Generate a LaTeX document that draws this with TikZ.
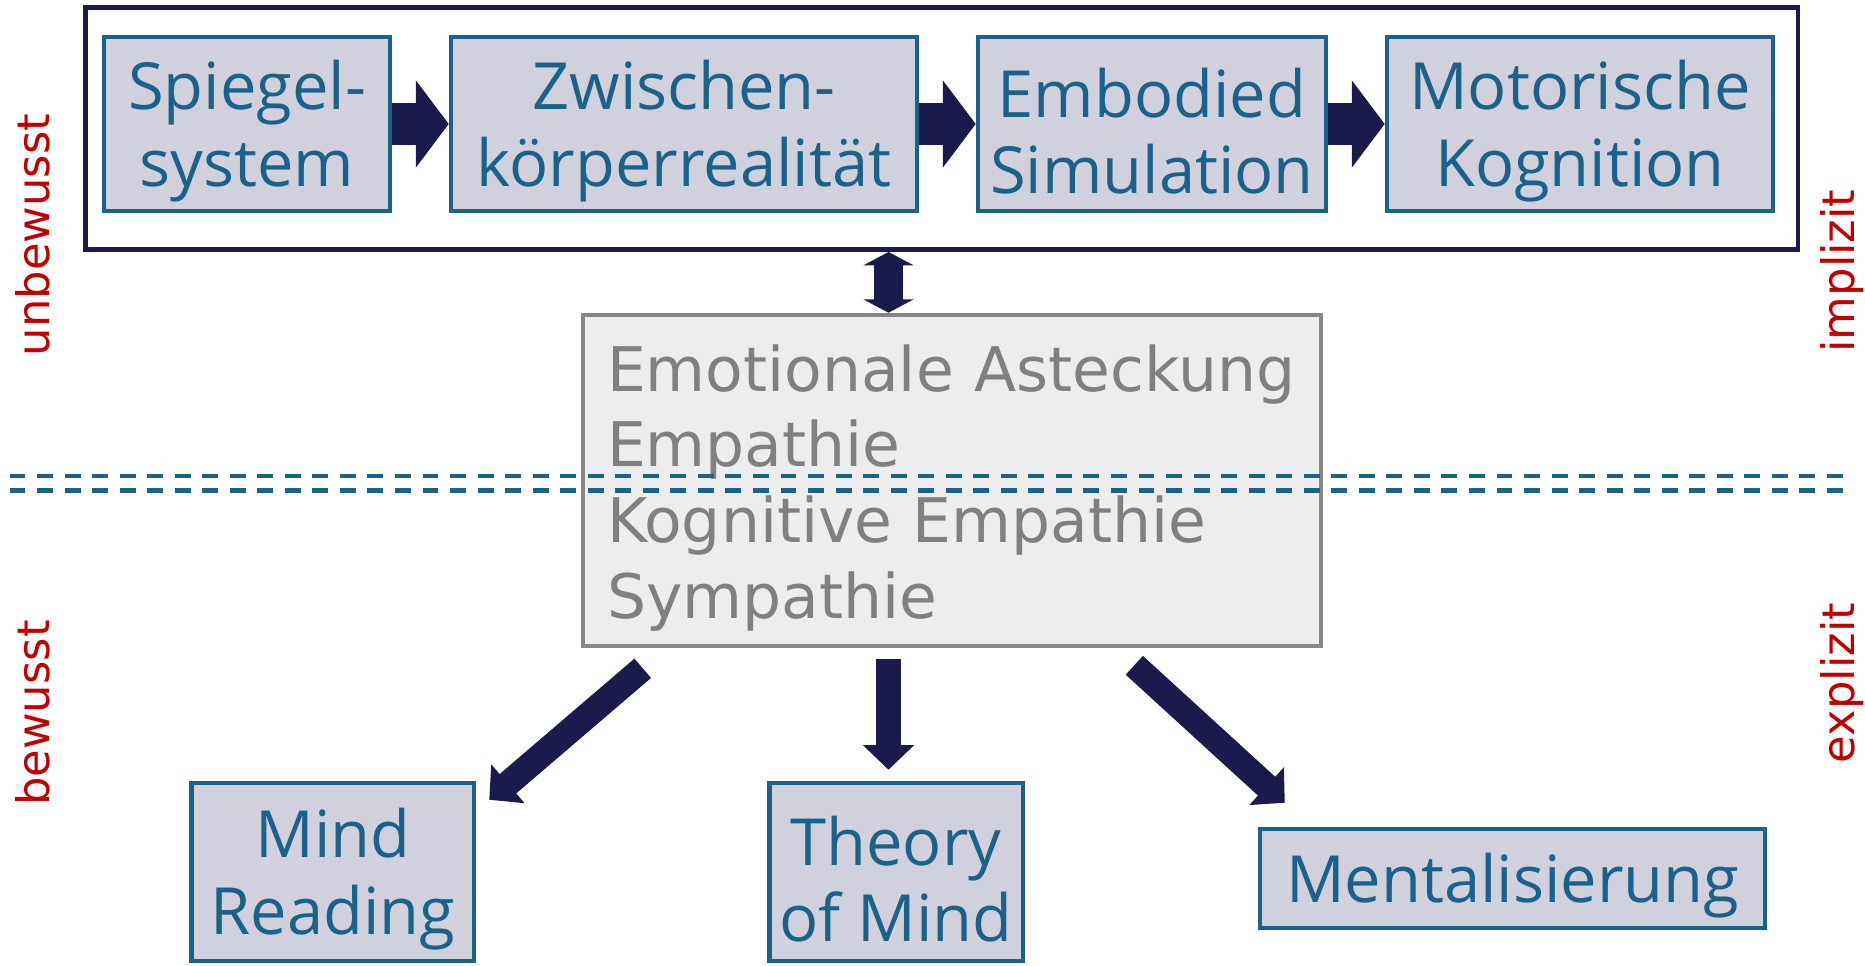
\documentclass[tikz,border=0pt]{standalone}
\usepackage{fontspec}
\setmainfont{Open Sans}
\newfontfamily\grayfont{DejaVu Sans}
\usetikzlibrary{arrows.meta, positioning, calc}
\usepackage{xcolor}

\definecolor{navy}{HTML}{1B1A4C}
\definecolor{boxblue}{HTML}{1B628A}
\definecolor{boxfill}{HTML}{D0D1DC}
\definecolor{greyfill}{HTML}{EDEDED}
\definecolor{greyline}{HTML}{878787}
\definecolor{greytext}{HTML}{808080}
\definecolor{labelred}{HTML}{C00000}

\newcommand{\hoch}{\rule{0pt}{36pt}}

\tikzset{
    blok/.style={draw=boxblue, line width=2.55pt, fill=boxfill, text=boxblue, align=center,
        font=\fontsize{37}{43.5}\selectfont, minimum height=3.48cm, inner sep=2pt},
    chainarrow/.style={navy, line width=23.8pt, -{Triangle[length=18.7pt, width=48.7pt]}},
    bigarrow/.style={navy, line width=14.5pt, -{Triangle[length=14pt, width=28.3pt]}},
    sidelabel/.style={text=labelred, rotate=90, font=\grayfont\fontsize{25.5}{30}\selectfont},
    trenn/.style={boxblue, line width=2.3pt, dash pattern=on 9.07pt off 6.6pt}
}

\begin{document}
\begin{tikzpicture}
        \useasboundingbox (0,0) rectangle (37.3,19.3);

        \node[blok, minimum width=5.72cm] (spiegel) at (4.94,16.82) {\hoch Spiegel-\\system};
        \node[blok, minimum width=9.32cm, right=1.13cm of spiegel] (zwischen) {\hoch Zwischen-\\körperrealität};
        \node[blok, minimum width=6.96cm, right=1.13cm of zwischen] (embodied) {\hoch Embodied\\Simulation};
        \node[blok, minimum width=7.72cm, right=1.13cm of embodied] (motorik) {\hoch Motorische\\Kognition};
        \node[draw=navy, line width=2.8pt, minimum width=34.25cm, minimum height=4.84cm] (rahmen) at (18.835,16.73) {};

        \draw[chainarrow] (spiegel) -- (zwischen);
        \draw[chainarrow] (zwischen) -- (embodied);
        \draw[chainarrow] (embodied) -- (motorik);

        \node[draw=greyline, line width=2.6pt, fill=greyfill, text=greytext, align=left,
            font=\grayfont\fontsize{35}{43.1}\selectfont, text width=13.8cm, inner xsep=0.48cm,
            minimum height=6.62cm] (empathie) at (19.04,9.69)
            {\rule{0pt}{35pt}Emotionale Asteckung\\Empathie\\Kognitive Empathie\\Sympathie};

        \coordinate (achse) at (17.77,0);
        \draw[navy, line width=16pt, {Triangle[length=7.6pt, width=28.3pt]}-{Triangle[length=7.6pt, width=28.3pt]}]
            (rahmen.south -| achse) -- (empathie.north -| achse);

        \draw[trenn] (0.19,9.78) -- (37.0,9.78);
        \draw[trenn] (0.19,9.49) -- (37.0,9.49);

        \node[blok, minimum width=5.65cm, minimum height=3.56cm] (mind) at (6.655,1.86) {\hoch Mind\\Reading};
        \node[blok, minimum width=5.07cm, minimum height=3.56cm] (theory) at (17.92,1.86) {\hoch Theory\\of Mind};
        \node[blok, minimum width=10.1cm, minimum height=1.98cm] (mental) at (30.25,1.73) {\hoch Mentalisierung};

        \draw[bigarrow] ($(empathie.south west)+(1.24,-0.4)$) -- ($(mind.north east)+(0.26,-0.38)$);
        \draw[bigarrow, shorten <=0.22cm, shorten >=0.22cm] (empathie.south -| achse) -- (theory.north -| achse);
        \draw[bigarrow] ($(empathie.south east)+(-3.78,-0.34)$) -- ($(mental.north west)+(0.54,0.48)$);

        \node[sidelabel] (unbewusst) at (0.65,14.6) {unbewusst};
        \node[sidelabel] (bewusst) at (0.65,5.04) {bewusst};
        \node[sidelabel] (implizit) at (36.84,13.88) {implizit};
        \node[sidelabel] (explizit) at (36.84,5.64) {explizit};

      \end{tikzpicture}
\end{document}
